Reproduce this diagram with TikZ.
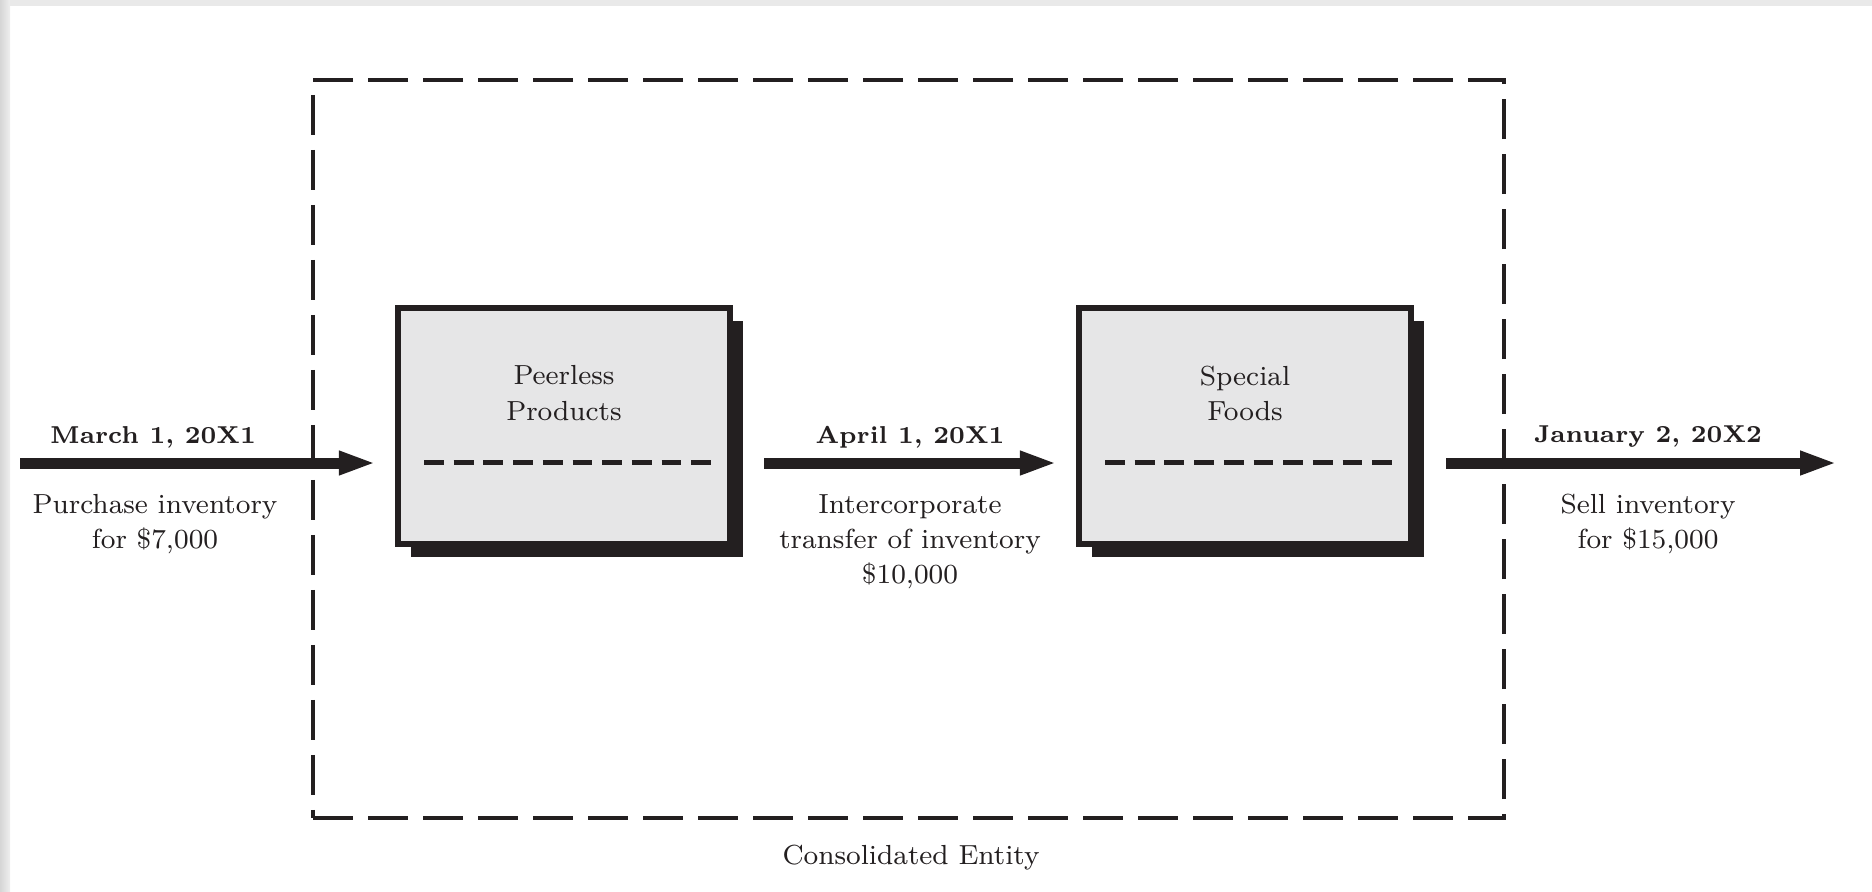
\documentclass[tikz,border=0pt]{standalone}
\usepackage{fontspec}
\usepackage{tikz}
\usetikzlibrary{arrows.meta,positioning,shadows}
\usepackage{xcolor}
\definecolor{EntInk}{RGB}{35,31,32}
\definecolor{EntGray}{RGB}{230,230,231}
\definecolor{EntEdge}{RGB}{214,214,214}

\begin{document}
\begin{tikzpicture}[x=0.1mm,y=-0.1mm,
  font=\fontsize{7.85}{10}\selectfont,
  entity/.style={draw=EntInk,line width=1.1pt,dash pattern=on 4mm off 1.5mm,
                 minimum width=119.1mm,minimum height=73.8mm,inner sep=0pt},
  company/.style={draw=EntInk,fill=EntGray,line width=1.8pt,
                  minimum width=33.2mm,minimum height=23.6mm,inner sep=0pt,
                  drop shadow={shadow xshift=1.3mm,shadow yshift=-1.3mm,
                               fill=EntInk,opacity=1}},
  compname/.style={align=center,inner sep=0pt,text=EntInk},
  datelabel/.style={font=\fontsize{6.95}{10}\selectfont\bfseries,
                    inner sep=0pt,text=EntInk},
  note/.style={align=center,inner sep=0pt,text=EntInk},
  flow/.style={draw=EntInk,line width=1.1mm,
               -{Triangle[length=3.7mm,width=2.2mm]}},
  divider/.style={draw=EntInk,line width=0.5mm,dash pattern=on 1.98mm off 0.99mm},
]
\useasboundingbox (0,0) rectangle (1872,891);
% page edge
\fill[left color=EntEdge,right color=EntEdge!40] (0,0) rectangle (10,891);
\fill[EntEdge!55] (10,0) rectangle (1872,6);

\node[entity] (entity) at (908.5,449) {};
\node[company] (peerless) at (564,426) {};
\node[company] (special) at (1245,426) {};
\node[compname] (peerlessname) at (564,393) {Peerless\\Products};
\node[compname] (specialname) at (1245,393) {Special\\Foods};
\draw[divider] (424,462) -- (712,462);
\draw[divider] (1105,462) -- (1392,462);

\coordinate (buy) at (20,463);
\coordinate (sell) at (1837,463);
\draw[flow,shorten >=1.9mm] (buy) -- (buy -| peerless.west);
\draw[flow,shorten <=3.1mm,shorten >=1.9mm] (peerless.east |- buy) -- (special.west |- buy);
\draw[flow,shorten <=3.2mm] (special.east |- buy) -- (sell);

\node[datelabel] (march) at (153,437) {March 1, 20X1};
\node[note] (purchase) at (155,524) {Purchase inventory\\for \$7,000};
\node[datelabel] (april) at (910,437) {April 1, 20X1};
\node[note] (transfer) at (910,542) {Intercorporate\\transfer of inventory\\\$10,000};
\node[datelabel] (january) at (1648,437) {January 2, 20X2};
\node[note] (sale) at (1648,524) {Sell inventory\\for \$15,000};
\node[note] (entityname) at (911,858) {Consolidated Entity};
\end{tikzpicture}
\end{document}
